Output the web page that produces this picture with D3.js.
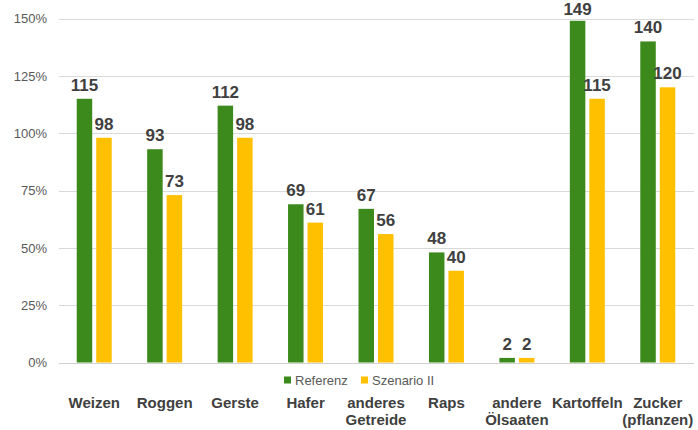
<!DOCTYPE html>
<html><head><meta charset="utf-8">
<script src="https://cdn.jsdelivr.net/npm/d3@7"></script>
<style>body{margin:0;background:#fff}svg{display:block}text{font-family:"Liberation Sans",Arial,sans-serif}</style>
</head><body>
<script>
const categories = [["Weizen"],["Roggen"],["Gerste"],["Hafer"],["anderes","Getreide"],["Raps"],["andere","Ölsaaten"],["Kartoffeln"],["Zucker","(pflanzen)"]];
const seriesNames = ["Referenz","Szenario II"];
const referenz = [115,93,112,69,67,48,2,149,140];
const szenario = [98,73,98,61,56,40,2,115,120];
const yTicks = [0,25,50,75,100,125,150];
const colors = ["#3c8a1c","#ffc000"];

const W=698,H=430;
const svg=d3.select("body").append("svg").attr("width",W).attr("height",H);
const x=d3.scaleBand().domain(d3.range(categories.length)).range([59,693]).paddingInner(0).paddingOuter(0);
const y=d3.scaleLinear().domain([0,150]).range([362.5,18.5]);
const barW=15.5, gap=4;

// gridlines
svg.append("g").selectAll("line").data(yTicks).join("line")
  .attr("x1",59).attr("x2",694).attr("y1",d=>Math.round(y(d))+0.5).attr("y2",d=>Math.round(y(d))+0.5)
  .attr("stroke",d=>d===0?"#d0d0d0":"#d9d9d9").attr("stroke-width",1);
const yAxis=d3.axisLeft(y).tickValues(yTicks).tickFormat(d=>d+"%").tickSize(0).tickPadding(0);
const ga=svg.append("g").attr("transform","translate(47,0)").call(yAxis);
ga.select(".domain").remove();
ga.selectAll("text").attr("font-size",13).attr("fill","#595959").attr("font-family","Liberation Sans, Arial, sans-serif");

const series=[referenz,szenario];
series.forEach((vals,si)=>{
  const off = si===0 ? -gap/2-barW : gap/2;
  const g=svg.append("g");
  g.selectAll("rect").data(vals).join("rect")
    .attr("x",(d,i)=>x(i)+x.bandwidth()/2+off)
    .attr("width",barW)
    .attr("y",d=>y(d))
    .attr("height",d=>y(0)-y(d))
    .attr("fill",colors[si]);
  g.selectAll("text").data(vals).join("text")
    .attr("x",(d,i)=>x(i)+x.bandwidth()/2+off+barW/2)
    .attr("y",d=>Math.max(y(d)-8,14.5))
    .attr("text-anchor","middle")
    .attr("font-size",17).attr("font-weight","bold").attr("fill","#404040")
    .text(d=>d);
});

// category labels
const cg=svg.append("g");
categories.forEach((lines,i)=>{
  const t=cg.append("text").attr("text-anchor","middle").attr("font-size",15).attr("font-weight","bold").attr("fill","#404040");
  lines.forEach((l,j)=>t.append("tspan").attr("x",x(i)+x.bandwidth()/2).attr("y",408+j*17).text(l));
});

// legend
const leg=svg.append("g");
const legX=[284,361];
seriesNames.forEach((n,i)=>{
  leg.append("rect").attr("x",legX[i]).attr("y",376.5).attr("width",7).attr("height",7).attr("fill",colors[i]);
  leg.append("text").attr("x",legX[i]+11).attr("y",384.5).attr("font-size",13).attr("fill","#595959").text(n);
});
</script>
</body></html>
